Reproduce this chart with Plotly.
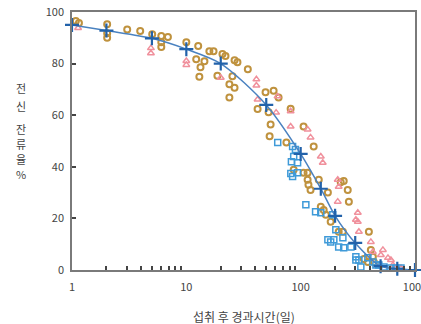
import plotly.graph_objects as go

# Model curve (blue crosses)
model_days = [1, 2, 5, 10, 20, 50, 100, 150, 200, 300, 500, 700, 1000]
model_vals = [95, 92.8, 89.8, 85.6, 80, 64, 45, 31.5, 21, 10.5, 1.5, 0.5, 0]

# Measured group A (tan circles)
circ_days = [1.08, 1.15, 2.03, 2.03, 2.03, 3.04, 3.95, 5.03, 6.04, 6.04, 6.04, 6.9, 10,
             12.7, 12.2, 13.3, 13.0, 14.4, 15.9, 17.3, 20.7, 22, 26.4, 28, 34.5, 18.7,
             25.3, 23.8, 26.4, 23.8, 42, 49.3, 58, 64.1, 81.7, 52.4, 54.6, 53.5, 106,
             130, 75, 115, 115, 117, 122, 144, 173, 159, 166, 183, 224, 238, 258, 264,
             215, 234, 395, 411, 428, 437, 357, 387, 86.9, 106, 150]
circ_vals = [96.5, 95.7, 95.3, 91.8, 90.0, 93.2, 92.6, 91.4, 90.7, 88.3, 86.4, 90.3, 88.3,
             86.8, 81.7, 78.6, 74.9, 80.9, 84.8, 84.8, 83.7, 82.9, 81.3, 80.5, 77.8, 75.3,
             75.1, 72.0, 70.6, 66.9, 62.4, 68.9, 69.5, 66.9, 62.5, 61.1, 56.4, 51.8, 55.6,
             47.9, 49.4, 37.7, 35.0, 33.0, 31.0, 35.0, 30.0, 23.3, 21.4, 18.7, 34.0, 34.5,
             31.0, 26.5, 14.8, 14.8, 14.8, 7.8, 5.1, 3.1, 4.3, 3.1, 38.9, 37.7, 24.5]

# Measured group B (pink triangles)
tri_days = [1.13, 4.9, 4.9, 10, 10, 20, 41, 41, 42, 62.8, 61, 81.7, 81.7, 115, 122, 150,
            156, 211, 215, 211, 316, 316, 323, 411, 428, 524, 503, 580, 616, 641, 754, 304]
tri_vals = [93.8, 86.0, 84.0, 81.0, 79.5, 74.5, 73.9, 71.5, 66.1, 67.3, 61.0, 61.5, 55.6,
            54.5, 51.4, 44.0, 41.6, 35.0, 32.3, 26.5, 22.2, 18.7, 14.8, 10.9, 7.0, 7.8, 5.8,
            4.7, 3.9, 1.9, 0.8, 19.5]

# Measured group C (blue squares)
sq_days = [63, 85, 90, 83, 94, 85, 82, 94, 111, 135, 150, 191, 183, 195, 215, 234, 238,
           275, 304, 304, 323, 387, 428, 455, 483, 535, 616, 681, 754, 203, 173, 336, 86.9]
sq_vals = [49.4, 47.9, 46.7, 42.0, 41.6, 36.2, 37.4, 37.7, 25.3, 22.6, 22.2, 21.4, 10.9,
           11.7, 8.9, 12.5, 8.6, 8.9, 5.1, 3.9, 3.9, 4.7, 3.1, 1.9, 1.9, 1.2, 0.8, 0.8, 0.8,
           15.6, 11.7, 1.2, 44.0]

x_ticks = [1, 10, 100, 1000]
x_minor_ticks = [2, 3, 4, 5, 6, 7, 8, 9, 20, 30, 40, 50, 60, 70, 80, 90,
                 200, 300, 400, 500, 600, 700, 800, 900]
y_ticks = [0, 20, 40, 60, 80, 100]
x_title = "섭취 후 경과시간(일)"
y_title_chars = ["전", "신", "잔", "류", "율", "%"]
y_title_pos = [88, 106, 129, 144, 159, 174]  # pixel rows

FONT = "Noto Sans CJK KR"
fig = go.Figure()
fig.add_trace(go.Scatter(x=circ_days, y=circ_vals, mode="markers",
                         marker=dict(symbol="circle-open", size=6, color="#BF923E",
                                     line=dict(width=2, color="#BF923E")),
                         cliponaxis=False, showlegend=False))
fig.add_trace(go.Scatter(x=tri_days, y=tri_vals, mode="markers",
                         marker=dict(symbol="triangle-up-open", size=6, color="#F0909C",
                                     line=dict(width=1.5, color="#F0909C")),
                         showlegend=False))
fig.add_trace(go.Scatter(x=sq_days, y=sq_vals, mode="markers",
                         marker=dict(symbol="square-open", size=6, color="#3F9AD8",
                                     line=dict(width=1.5, color="#3F9AD8")),
                         showlegend=False))
fig.add_trace(go.Scatter(x=model_days, y=model_vals, mode="lines+markers",
                         line=dict(color="#4A82C0", width=1.5, shape="spline", smoothing=0.8),
                         marker=dict(symbol="cross-thin-open", size=10, color="#2262AA",
                                     line=dict(width=2.2, color="#2262AA")),
                         cliponaxis=False, showlegend=False))

fig.update_xaxes(type="log", range=[0, 3], tickvals=x_ticks, ticktext=[str(v) for v in x_ticks],
                 ticks="inside", ticklen=0, showgrid=False, zeroline=False,
                 showline=True, linecolor="#7a7a7a", linewidth=1.5, mirror=True,
                 ticklabeloverflow="allow", automargin=False, ticklabelstandoff=6,
                 minor=dict(tickvals=x_minor_ticks, ticks="inside", ticklen=4,
                            tickcolor="#444", tickwidth=1.5, showgrid=False),
                 tickfont=dict(family=FONT, size=11, color="#444"))
fig.update_yaxes(range=[0, 100], tickvals=y_ticks, ticks="inside", ticklen=4,
                 tickcolor="#444", tickwidth=1.5, showgrid=False, zeroline=False,
                 showline=True, linecolor="#7a7a7a", linewidth=1.5, mirror=True,
                 automargin=False, ticklabelstandoff=4,
                 tickfont=dict(family=FONT, size=11, color="#444"))

fig.update_layout(
    width=421, height=324, margin=dict(l=72, r=6, t=12, b=54),
    paper_bgcolor="white", plot_bgcolor="white",
)
annotations = []
annotations.append(dict(text=x_title, x=0.5, y=-0.14, xref="paper", yref="paper",
                        xanchor="center", yanchor="top", showarrow=False,
                        font=dict(family=FONT, size=12, color="#444")))
plot_h = 324 - 12 - 54
for ch, py in zip(y_title_chars, y_title_pos):
    annotations.append(dict(text=ch, x=-51 / 343, y=(270 - py) / plot_h, xref="paper",
                            yref="paper", xanchor="center", yanchor="middle",
                            showarrow=False, font=dict(family=FONT, size=11, color="#444")))
fig.update_layout(annotations=annotations)
fig.write_html("out.html")
